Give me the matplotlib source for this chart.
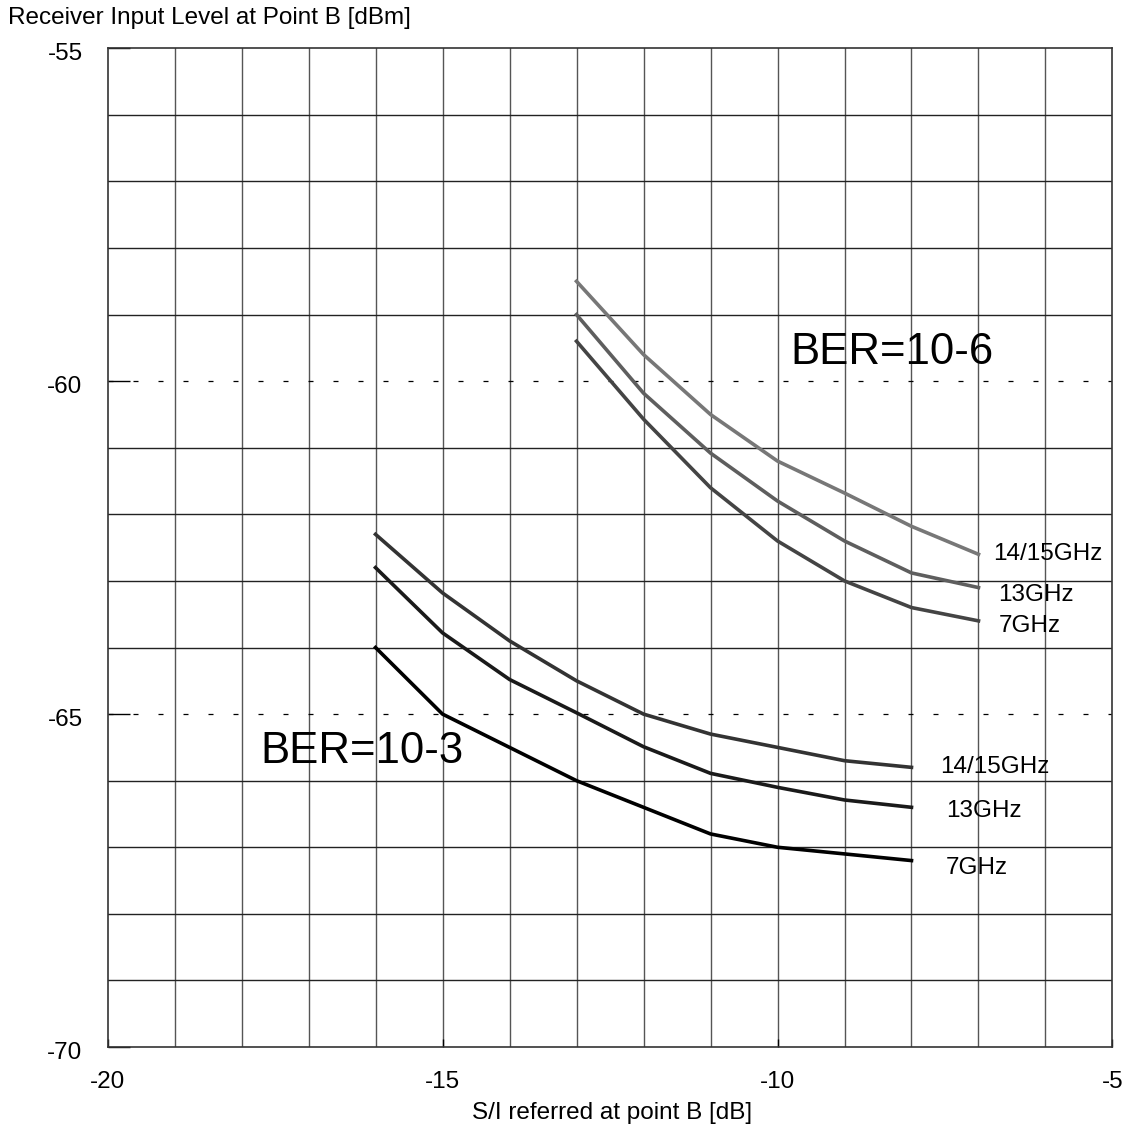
import matplotlib.pyplot as plt
import matplotlib.transforms as mtransforms

plt.rcParams['font.family'] = ['Liberation Sans', 'DejaVu Sans']
plt.rcParams['axes.unicode_minus'] = False

# S/I values [dB]
si_hi = [-13, -12, -11, -10, -9, -8, -7]
si_lo = [-16, -15, -14, -13, -12, -11, -10, -9, -8]

# BER=10-6 curves [dBm]
hi_1415 = [-58.5, -59.6, -60.5, -61.2, -61.68, -62.18, -62.6]
hi_13 = [-59.0, -60.18, -61.08, -61.8, -62.4, -62.88, -63.1]
hi_7 = [-59.4, -60.57, -61.6, -62.4, -63.0, -63.4, -63.6]

# BER=10-3 curves [dBm]
lo_1415 = [-62.3, -63.18, -63.9, -64.5, -65.0, -65.3, -65.5, -65.7, -65.8]
lo_13 = [-62.8, -63.78, -64.48, -64.98, -65.49, -65.89, -66.1, -66.29, -66.4]
lo_7 = [-64.0, -65.0, -65.5, -66.0, -66.4, -66.8, -67.0, -67.1, -67.2]

fig = plt.figure(figsize=(11.33, 11.33), dpi=100)
ax = fig.add_axes([0.0949, 0.0759, 0.887, 0.8815])

# grid
for x in range(-19, -5):
    ax.axvline(x, color='#555555', lw=1.0, zorder=1)
for y in range(-69, -55):
    if y in (-60, -65):
        ax.axhline(y, color='black', lw=0.9, ls=(0, (4, 16)), zorder=1)
    else:
        ax.axhline(y, color='#222222', lw=1.0, zorder=1)

curves = [
    (si_hi, hi_1415, '#777777', '14/15GHz', (15, 0)),
    (si_hi, hi_13, '#5e5e5e', '13GHz', (20, -7)),
    (si_hi, hi_7, '#444444', '7GHz', (20, -5)),
    (si_lo, lo_1415, '#333333', '14/15GHz', (29, 0)),
    (si_lo, lo_13, '#1a1a1a', '13GHz', (35, -4)),
    (si_lo, lo_7, '#000000', '7GHz', (34, -7)),
]
for xs, ys, c, lab, off in curves:
    ax.plot(xs, ys, color=c, lw=2.6, zorder=3)
    ax.annotate(lab, (xs[-1], ys[-1]), xytext=off, textcoords='offset pixels',
                ha='left', va='center', fontsize=17.5, color='black')

ax.text(-9.81, -59.57, 'BER=10-6', fontsize=31.5, ha='left', va='center')
ax.text(-17.72, -65.56, 'BER=10-3', fontsize=31.5, ha='left', va='center')

ax.set_xlim(-20, -5)
ax.set_ylim(-70, -55)
ax.set_xticks([-20, -15, -10, -5])
ax.set_yticks([-70, -65, -60, -55])
ax.tick_params(axis='y', direction='in', length=16, width=1, pad=18, labelsize=17.5)
ax.tick_params(axis='x', direction='in', length=6, width=1, pad=17, labelsize=17.5)
shift = mtransforms.ScaledTranslation(0, -6 / 100, fig.dpi_scale_trans)
for lbl in ax.get_yticklabels():
    lbl.set_verticalalignment('center')
    lbl.set_transform(lbl.get_transform() + shift)
for s in ax.spines.values():
    s.set_color('#333333')
    s.set_linewidth(1.2)

fig.text(8 / 1133, 1 - 18 / 1133, 'Receiver Input Level at Point B [dBm]',
         fontsize=17.5, ha='left', va='center')
fig.text(612 / 1133, 1 - 1113 / 1133, 'S/I referred at point B [dB]',
         fontsize=17.5, ha='center', va='center')

fig.savefig('out.png', dpi=100)
